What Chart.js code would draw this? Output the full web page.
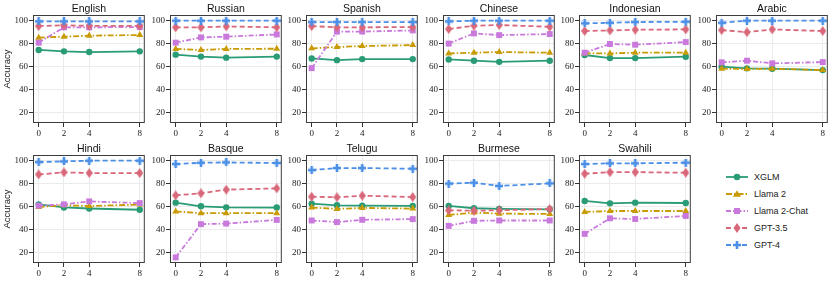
<!DOCTYPE html>
<html>
<head>
<meta charset="utf-8">
<script src="https://cdn.jsdelivr.net/npm/chart.js@4.4.1/dist/chart.umd.min.js"></script>
<style>
  body { margin: 0; background: #fff; width: 830px; height: 281px; position: relative; overflow: hidden; }
  .panel { position: absolute; }
  #legend { position: absolute; left: 726px; top: 168px; font: 9px "Liberation Sans", Arial, sans-serif; color: #222; }
  #legend .item { height: 17px; display: flex; align-items: center; }
  #legend svg { margin-right: 6px; }
</style>
</head>
<body>
<div id="legend"></div>
<script>
const languages = ['English', 'Russian', 'Spanish', 'Chinese', 'Indonesian', 'Arabic',
                   'Hindi', 'Basque', 'Telugu', 'Burmese', 'Swahili'];
const shots = [0, 2, 4, 8];
const yTicks = [20, 40, 60, 80, 100];
const models = ['XGLM', 'Llama 2', 'Llama 2-Chat', 'GPT-3.5', 'GPT-4'];

// accuracy, one row per language (same order as `languages`), one column per shot count
const xglm = [
  [74.4, 73.2, 72.6, 73.2],
  [70.3, 68.6, 67.7, 68.6],
  [67.0, 65.5, 66.4, 66.4],
  [66.1, 65.0, 64.0, 65.0],
  [70.0, 67.3, 67.3, 68.5],
  [59.8, 58.3, 58.0, 56.8],
  [61.8, 59.1, 58.2, 57.1],
  [63.3, 60.1, 59.2, 59.0],
  [62.4, 61.0, 60.7, 60.4],
  [60.4, 58.4, 57.8, 57.5],
  [64.8, 62.7, 63.3, 63.0]
];
const llama2 = [
  [85.2, 86.0, 86.9, 87.5],
  [75.3, 74.4, 75.3, 75.5],
  [75.8, 77.0, 77.8, 78.7],
  [71.4, 72.0, 72.6, 72.0],
  [71.4, 71.4, 72.0, 72.0],
  [58.0, 57.7, 58.0, 56.8],
  [59.5, 61.0, 60.4, 61.6],
  [55.6, 54.1, 54.1, 54.1],
  [59.0, 57.8, 58.7, 58.1],
  [52.5, 54.6, 53.7, 53.4],
  [55.2, 56.0, 56.0, 56.0]
];
const llama2Chat = [
  [80.8, 94.2, 94.2, 94.5],
  [80.8, 85.4, 86.0, 88.0],
  [58.5, 90.4, 90.5, 91.5],
  [80.0, 88.9, 87.4, 88.3],
  [72.0, 79.6, 79.0, 81.3],
  [63.6, 65.0, 62.7, 63.8],
  [60.7, 61.8, 64.4, 62.9],
  [15.4, 44.5, 45.0, 48.2],
  [47.7, 46.3, 48.3, 48.9],
  [43.0, 47.4, 47.7, 47.7],
  [36.0, 49.6, 49.0, 51.7]
];
const gpt35 = [
  [95.3, 96.0, 95.5, 95.5],
  [94.2, 94.2, 95.0, 94.2],
  [95.3, 94.2, 94.2, 94.5],
  [92.7, 95.6, 96.2, 94.7],
  [91.0, 91.5, 92.1, 92.4],
  [91.8, 90.0, 92.4, 91.0],
  [88.0, 89.8, 89.2, 89.2],
  [69.7, 71.5, 74.7, 75.8],
  [68.5, 68.0, 69.4, 68.2],
  [56.6, 56.3, 56.6, 57.8],
  [88.6, 90.0, 90.0, 89.5]
];
const gpt4 = [
  [99.4, 99.4, 99.4, 99.4],
  [100, 100, 100, 100],
  [98.8, 98.8, 98.8, 98.8],
  [99.4, 100, 100, 100],
  [97.7, 98.2, 98.8, 99.1],
  [98.2, 100, 100, 100],
  [98.8, 99.4, 100, 100],
  [97.1, 98.2, 98.5, 98.0],
  [91.8, 93.6, 93.6, 93.0],
  [80.0, 80.8, 77.9, 80.2],
  [97.1, 97.7, 97.7, 98.3]
];
const series = [xglm, llama2, llama2Chat, gpt35, gpt4];

// --- styles ---
const colors = ['#2a9b77', '#c89b04', '#c979dc', '#d9677a', '#4b8fe6'];
const dashes = [[], [6, 2, 1.5, 2], [5, 2, 1.5, 2], [5, 3], [5, 3]];

// custom marker sprites (thin diamond, filled plus)
function sprite(w, h, draw) {
  const c = document.createElement('canvas');
  c.width = w; c.height = h;
  draw(c.getContext('2d'));
  return c;
}
const thinDiamond = sprite(7, 10, ctx => {
  ctx.fillStyle = colors[3];
  ctx.beginPath();
  ctx.moveTo(3.5, 0); ctx.lineTo(7, 5); ctx.lineTo(3.5, 10); ctx.lineTo(0, 5);
  ctx.closePath(); ctx.fill();
});
const plusMark = sprite(8, 8, ctx => {
  ctx.fillStyle = colors[4];
  ctx.fillRect(2.7, 0, 2.6, 8);
  ctx.fillRect(0, 2.7, 8, 2.6);
});
const markers = [
  { pointStyle: 'circle', pointRadius: 3.2 },
  { pointStyle: 'triangle', pointRadius: 4 },
  { pointStyle: 'rect', pointRadius: 4.2 },
  { pointStyle: thinDiamond, pointRadius: 4 },
  { pointStyle: plusMark, pointRadius: 4 }
];

// --- layout ---
const colLeft = [33, 170, 306, 443, 579, 716];
const rowTop = [15, 155];
const boxW = 112, boxH = 108;
const padT = 15, padB = 17, padR = 4;

const panelFrame = {
  id: 'panelFrame',
  afterDraw(chart, args, opts) {
    const { ctx, chartArea: a } = chart;
    ctx.save();
    ctx.strokeStyle = '#3c3c3c';
    ctx.lineWidth = 1;
    ctx.strokeRect(a.left + 0.5, a.top + 0.5, a.right - a.left - 1, a.bottom - a.top - 1);
    ctx.fillStyle = '#111';
    ctx.font = '10.5px "Liberation Sans", Arial, sans-serif';
    ctx.textAlign = 'center';
    ctx.textBaseline = 'alphabetic';
    ctx.fillText(opts.text, (a.left + a.right) / 2, a.top - 3.5);
    ctx.restore();
  }
};

const tickFont = { family: '"Liberation Serif", "DejaVu Serif", serif', size: 9 };

languages.forEach((lang, li) => {
  const col = li % 6, row = Math.floor(li / 6);
  const padL = col === 0 ? 33 : 24;
  const div = document.createElement('div');
  div.className = 'panel';
  div.style.left = (colLeft[col] - padL) + 'px';
  div.style.top = (rowTop[row] - padT) + 'px';
  div.style.width = (boxW + padL + padR) + 'px';
  div.style.height = (boxH + padT + padB) + 'px';
  const canvas = document.createElement('canvas');
  div.appendChild(canvas);
  document.body.appendChild(div);

  const datasets = models.map((m, mi) => ({
    label: m,
    data: shots.map((s, i) => ({ x: s, y: series[mi][li][i] })),
    borderColor: colors[mi],
    backgroundColor: colors[mi],
    borderWidth: 1.8,
    borderDash: dashes[mi],
    pointStyle: markers[mi].pointStyle,
    pointRadius: markers[mi].pointRadius,
    pointBorderWidth: 0,
    tension: 0,
    clip: false,
    order: models.length - mi
  }));

  new Chart(canvas, {
    type: 'line',
    data: { datasets },
    options: {
      responsive: true,
      maintainAspectRatio: false,
      animation: false,
      layout: { padding: { top: padT, right: padR, left: 0, bottom: 0 } },
      scales: {
        x: {
          type: 'linear',
          min: -0.45,
          max: 8.4,
          afterBuildTicks: s => { s.ticks = shots.map(v => ({ value: v })); },
          afterFit: s => { s.height = padB; },
          grid: { color: '#ebebeb', tickColor: '#333', tickLength: 4 },
          border: { display: false },
          ticks: { font: tickFont, color: '#222', padding: 1, maxRotation: 0 }
        },
        y: {
          min: 10.5,
          max: 105,
          afterBuildTicks: s => { s.ticks = yTicks.map(v => ({ value: v })); },
          afterFit: s => { s.width = padL; },
          grid: { color: '#ebebeb', tickColor: '#333', tickLength: 4 },
          border: { display: false },
          ticks: { font: tickFont, color: '#222', padding: 1 },
          title: {
            display: col === 0,
            text: 'Accuracy',
            font: { family: '"Liberation Sans", Arial, sans-serif', size: 9.5 },
            color: '#222',
            padding: { top: 2, bottom: 0 }
          }
        }
      },
      plugins: {
        legend: { display: false },
        tooltip: { enabled: false },
        panelFrame: { text: lang }
      }
    },
    plugins: [panelFrame]
  });
});

// --- legend ---
const legend = document.getElementById('legend');
const markerSvg = [
  c => `<circle cx="11" cy="5" r="3.3" fill="${c}"/>`,
  c => `<polygon points="11,1.2 15,7.8 7,7.8" fill="${c}"/>`,
  c => `<rect x="8" y="2" width="6" height="6" fill="${c}"/>`,
  c => `<polygon points="11,0 14.5,5 11,10 7.5,5" fill="${c}"/>`,
  c => `<polygon points="9.7,1 12.3,1 12.3,3.7 15,3.7 15,6.3 12.3,6.3 12.3,9 9.7,9 9.7,6.3 7,6.3 7,3.7 9.7,3.7" fill="${c}"/>`
];
models.forEach((m, mi) => {
  const item = document.createElement('div');
  item.className = 'item';
  const dash = dashes[mi].length ? `stroke-dasharray="${dashes[mi].join(' ')}"` : '';
  item.innerHTML =
    `<svg width="22" height="10"><line x1="0" y1="5" x2="22" y2="5" stroke="${colors[mi]}" stroke-width="1.8" ${dash}/>` +
    markerSvg[mi](colors[mi]) + `</svg><span>${m}</span>`;
  legend.appendChild(item);
});
</script>
</body>
</html>
